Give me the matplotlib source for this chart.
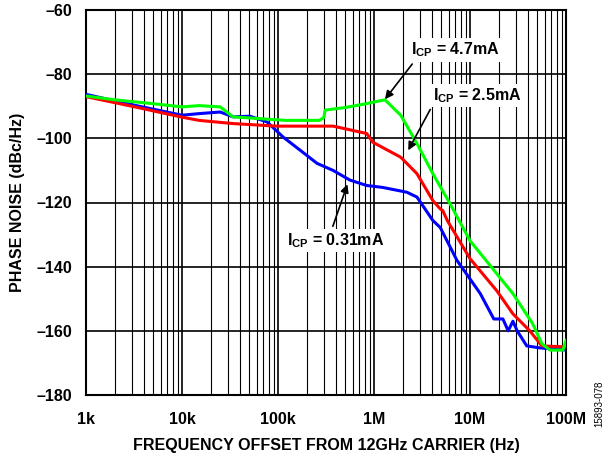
import matplotlib.pyplot as plt
import numpy as np

# Phase noise vs offset frequency.
freq_47 = [1e3, 2e3, 5e3, 1e4, 1.5e4, 2.5e4, 3.4e4, 6e4, 1.2e5, 2.7e5, 3.0e5, 3.1e5,
           5e5, 8e5, 1.15e6, 1.3e6, 1.9e6, 2.8e6, 4.1e6, 6.2e6, 1e7, 2.8e7, 4.5e7,
           5.6e7, 6.8e7, 9.3e7, 1e8]
pn_47 = [-86.8, -88.0, -89.2, -90.2, -89.8, -90.2, -93.3, -93.8, -94.4, -94.4, -93.5, -91.2,
         -90.4, -89.3, -88.3, -88.0, -92.8, -101.6, -111.0, -120.4, -131.9, -148.4, -157.8,
         -164.0, -166.0, -166.0, -163.0]

freq_25 = [1e3, 3e3, 1e4, 1.5e4, 3.4e4, 9.7e4, 3.75e5, 8.4e5, 9.7e5, 1.9e6, 2.8e6,
           4.1e6, 4.9e6, 5.2e6, 5.8e6, 1e7, 1.9e7, 2.8e7, 4.2e7, 5.6e7, 1e8]
pn_25 = [-87.0, -90.0, -93.4, -94.4, -95.4, -96.2, -96.2, -98.5, -101.2, -105.9, -111.0,
         -119.4, -122.0, -122.5, -125.6, -137.5, -147.5, -154.7, -160.0, -164.7, -165.0]

freq_031 = [1e3, 3e3, 1e4, 1.5e4, 2.5e4, 3.4e4, 5.1e4, 7.7e4, 1.13e5, 1.7e5, 2.55e5,
            3.75e5, 5.6e5, 8.4e5, 1.23e6, 2.2e6, 2.8e6, 4.1e6, 4.9e6, 7.3e6, 1.28e7,
            1.77e7, 2.2e7, 2.5e7, 2.8e7, 3.1e7, 3.9e7, 5.3e7, 1e8]
pn_031 = [-86.3, -89.5, -92.8, -92.3, -91.8, -93.3, -93.1, -94.9, -99.6, -103.7, -107.8,
          -110.0, -113.0, -114.7, -115.3, -116.8, -118.3, -125.6, -127.8, -138.0, -148.4,
          -156.3, -156.3, -160.0, -157.0, -160.0, -164.7, -165.3, -166.0]

x_ticks = [1e3, 1e4, 1e5, 1e6, 1e7, 1e8]
x_ticklabels = ["1k", "10k", "100k", "1M", "10M", "100M"]
y_ticks = [-180, -160, -140, -120, -100, -80, -60]

plt.rcParams["font.family"] = ["Liberation Sans", "DejaVu Sans"]
plt.rcParams["font.weight"] = "bold"
plt.rcParams["mathtext.fontset"] = "custom"
plt.rcParams["mathtext.bf"] = "Liberation Sans:bold"

fig = plt.figure(figsize=(6.08, 4.54), dpi=100)
ax = fig.add_axes([86 / 608, 59 / 454, 480 / 608, 385 / 454])

ax.plot(freq_031, pn_031, color="#0000ff", lw=2.2, zorder=3)
ax.plot(freq_25, pn_25, color="#ff0000", lw=2.2, zorder=4)
ax.plot(freq_47, pn_47, color="#00ff00", lw=2.2, zorder=5)

ax.set_xscale("log")
ax.set_xlim(1e3, 1e8)
ax.set_ylim(-180, -60)
ax.set_xticks(x_ticks)
ax.set_xticklabels(x_ticklabels)
ax.set_yticks(y_ticks)
ax.set_yticklabels([f"–{abs(v)}" for v in y_ticks])
ax.tick_params(which="both", length=0, labelsize=11.5)
ax.tick_params(axis="x", pad=12)
ax.tick_params(axis="y", pad=10)
ax.grid(True, which="major", color="black", lw=1.2)
ax.grid(True, which="minor", axis="x", color="black", lw=0.8)
for s in ax.spines.values():
    s.set_linewidth(1.5)

ax.set_xlabel("FREQUENCY OFFSET FROM 12GHz CARRIER (Hz)", fontsize=11.5,
              fontweight="bold", labelpad=8)
ax.set_ylabel("PHASE NOISE (dBc/Hz)", fontsize=11.5, fontweight="bold", labelpad=8)

box = dict(boxstyle="square,pad=0.15", fc="white", ec="none")
arrow = dict(arrowstyle="-|>", color="black", lw=1.2, mutation_scale=12)
ax.annotate("I$_{\\mathbf{CP}}$ = 4.7mA", xy=(1.25e6, -88.5), xytext=(2.45e6, -72.5),
            fontsize=11.5, fontweight="bold", ha="left", va="center", bbox=box,
            arrowprops=dict(arrow, relpos=(0.05, 0.0)), zorder=6)
ax.annotate("I$_{\\mathbf{CP}}$ = 2.5mA", xy=(2.2e6, -104.5), xytext=(4.1e6, -86.6),
            fontsize=11.5, fontweight="bold", ha="left", va="center", bbox=box,
            arrowprops=dict(arrow, relpos=(0.0, 0.0)), zorder=6)
ax.annotate("I$_{\\mathbf{CP}}$ = 0.31mA", xy=(5.4e5, -113.5), xytext=(1.25e5, -131.9),
            fontsize=11.5, fontweight="bold", ha="left", va="center", bbox=box,
            arrowprops=dict(arrow, relpos=(0.45, 1.0)), zorder=6)

fig.text(0.985, 0.06, "15893-078", rotation=90, fontsize=7, fontweight="normal",
         ha="center", va="bottom")

fig.savefig("out.png", dpi=100)
